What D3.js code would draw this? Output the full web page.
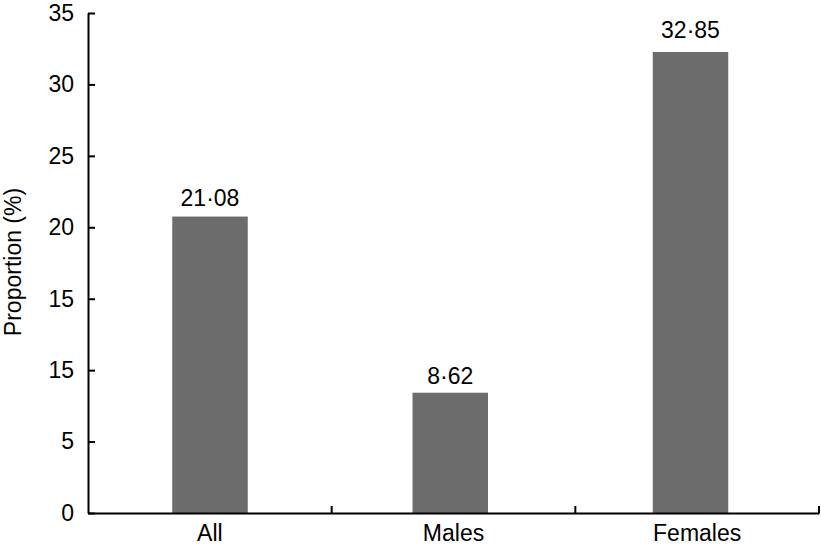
<!DOCTYPE html>
<html>
<head>
<meta charset="utf-8">
<script src="https://cdn.jsdelivr.net/npm/d3@7"></script>
<style>
  html, body { margin: 0; padding: 0; background: #fff; }
  svg { display: block; font-family: "Liberation Sans", Arial, Helvetica, sans-serif; }
</style>
</head>
<body>
<svg id="chart" width="821" height="549"></svg>
<script>
// ---- data ----
const categories = ["All", "Males", "Females"];
const barValues = [20.75, 8.42, 32.27];          // bar heights as drawn
const labelValues = [21.08, 8.62, 32.85];        // printed values
const labelTexts = ["21·08", "8·62", "32·85"];
const yTickValues = [0, 5, 10, 15, 20, 25, 30, 35];
const yTickLabels = ["0", "5", "15", "15", "20", "25", "30", "35"];
const yTitle = "Proportion (%)";

const svg = d3.select("#chart");
const fontSize = 23;

const y = d3.scaleLinear().domain([0, 35]).range([513, 13]);
const x = d3.scaleBand().domain(categories).range([88, 819]);
const xBar = d3.scalePoint().domain(categories).range([210, 690.5]);
const barW = 75.5;

// bars
svg.append("g").selectAll("rect")
  .data(categories)
  .join("rect")
  .attr("x", (d) => xBar(d) - barW / 2)
  .attr("width", barW)
  .attr("y", (d, i) => y(barValues[i]))
  .attr("height", (d, i) => y(0) - y(barValues[i]))
  .attr("fill", "#6c6c6c");

// value labels
svg.append("g").selectAll("text")
  .data(categories)
  .join("text")
  .attr("x", (d) => xBar(d))
  .attr("y", (d, i) => y(labelValues[i]) - 6)
  .attr("text-anchor", "middle")
  .attr("font-size", fontSize)
  .attr("fill", "#000")
  .text((d, i) => labelTexts[i]);

// y axis
const yAxis = d3.axisLeft(y)
  .tickValues(yTickValues)
  .tickFormat((d, i) => yTickLabels[i])
  .tickSizeInner(-7)
  .tickSizeOuter(0)
  .tickPadding(14);
const gy = svg.append("g").attr("transform", "translate(88,0)").call(yAxis);
gy.select(".domain").attr("stroke", "#000").attr("stroke-width", 2);
gy.selectAll(".tick line").attr("stroke", "#000").attr("stroke-width", 2);
gy.selectAll(".tick text").attr("font-size", fontSize).attr("fill", "#000")
  .attr("font-family", "Liberation Sans, Arial, sans-serif");

// x axis
const xAxis = d3.axisBottom(x).tickSize(0).tickPadding(12);
const gx = svg.append("g").attr("transform", "translate(0,513)").call(xAxis);
gx.select(".domain").attr("stroke", "#000").attr("stroke-width", 2);
gx.selectAll(".tick text").attr("font-size", fontSize).attr("fill", "#000")
  .attr("font-family", "Liberation Sans, Arial, sans-serif")
  .attr("dy", "0.71em");
// boundary ticks pointing inward (up)
svg.append("g").selectAll("line")
  .data(categories)
  .join("line")
  .attr("x1", (d) => x(d) + x.bandwidth())
  .attr("x2", (d) => x(d) + x.bandwidth())
  .attr("y1", y(0))
  .attr("y2", y(0) - 7)
  .attr("stroke", "#000")
  .attr("stroke-width", 2);

// y title
svg.append("text")
  .attr("transform", "translate(21,262) rotate(-90)")
  .attr("text-anchor", "middle")
  .attr("font-size", fontSize)
  .attr("fill", "#000")
  .text(yTitle);
</script>
</body>
</html>
